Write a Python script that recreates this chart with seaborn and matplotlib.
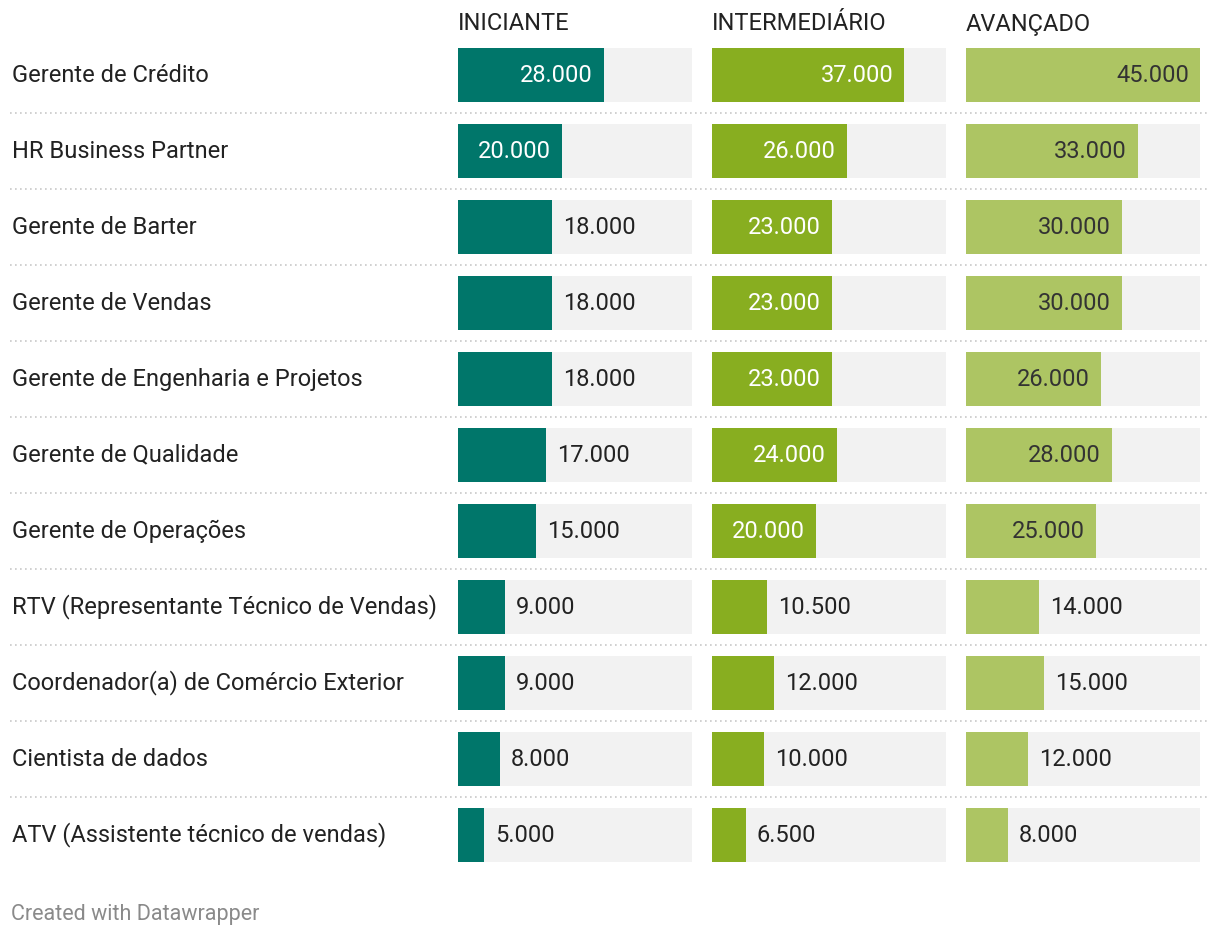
import matplotlib
matplotlib.use("Agg")
import matplotlib.pyplot as plt
from matplotlib.lines import Line2D
import seaborn as sns
import pandas as pd

roles = [
    "Gerente de Crédito",
    "HR Business Partner",
    "Gerente de Barter",
    "Gerente de Vendas",
    "Gerente de Engenharia e Projetos",
    "Gerente de Qualidade",
    "Gerente de Operações",
    "RTV (Representante Técnico de Vendas)",
    "Coordenador(a) de Comércio Exterior",
    "Cientista de dados",
    "ATV (Assistente técnico de vendas)",
]
levels = ["INICIANTE", "INTERMEDIÁRIO", "AVANÇADO"]
iniciante = [28000, 20000, 18000, 18000, 18000, 17000, 15000, 9000, 9000, 8000, 5000]
intermediario = [37000, 26000, 23000, 23000, 23000, 24000, 20000, 10500, 12000, 10000, 6500]
avancado = [45000, 33000, 30000, 30000, 26000, 28000, 25000, 14000, 15000, 12000, 8000]

series = [iniciante, intermediario, avancado]
colors = ["#00766a", "#88ae20", "#adc563"]
text_in = ["white", "white", "#333333"]
footer = "Created with Datawrapper"

sns.set_theme(style="white")
plt.rcParams["font.family"] = ["Roboto", "DejaVu Sans"]

W, H = 1220, 938
fig = plt.figure(figsize=(W / 100, H / 100), dpi=100)

xmax = max(max(s) for s in series)
n = len(roles)
pitch = 76
y0 = 37
col_left = [458, 712, 966]
col_w = 234
bar_frac = 54 / 76
fs = 17


def fx(px):
    return px / W


def fy(py):
    return 1 - py / H


def fmt(v):
    return f"{v:,.0f}".replace(",", ".")


for i, (vals, lvl) in enumerate(zip(series, levels)):
    ax = fig.add_axes([fx(col_left[i]), fy(y0 + n * pitch), fx(col_w), (n * pitch) / H])
    df = pd.DataFrame({"role": roles, "value": vals, "full": [xmax] * n})
    sns.barplot(data=df, x="full", y="role", color="#f2f2f2", width=bar_frac,
                saturation=1, linewidth=0, ax=ax)
    sns.barplot(data=df, x="value", y="role", color=colors[i], width=bar_frac,
                saturation=1, linewidth=0, ax=ax)
    ax.set_xlim(0, xmax)
    ax.set_ylim(n - 0.5, -0.5)
    ax.axis("off")
    pad = 11 / col_w * xmax
    for j, v in enumerate(vals):
        if v >= 19500:
            ax.text(v - pad, j, fmt(v), ha="right", va="center", color=text_in[i],
                    fontsize=fs)
        else:
            ax.text(v + pad, j, fmt(v), ha="left", va="center", color="#222222",
                    fontsize=fs)
    fig.text(fx(col_left[i]), fy(24), lvl, ha="left", va="center",
             fontsize=fs, color="#222222")

for j, r in enumerate(roles):
    cy = y0 + pitch / 2 + j * pitch
    fig.text(fx(12), fy(cy), r, ha="left", va="center", fontsize=fs, color="#222222")
    if j < n - 1:
        ly = fy(cy + pitch / 2)
        fig.add_artist(Line2D([fx(10), fx(1208)], [ly, ly], transform=fig.transFigure,
                              color="#c8c8c8", lw=1.2, linestyle=(0, (1, 2))))

fig.text(fx(11), fy(914), footer, ha="left", va="center", fontsize=15.5, color="#8a8a8a")

fig.savefig("out.png", dpi=100)
